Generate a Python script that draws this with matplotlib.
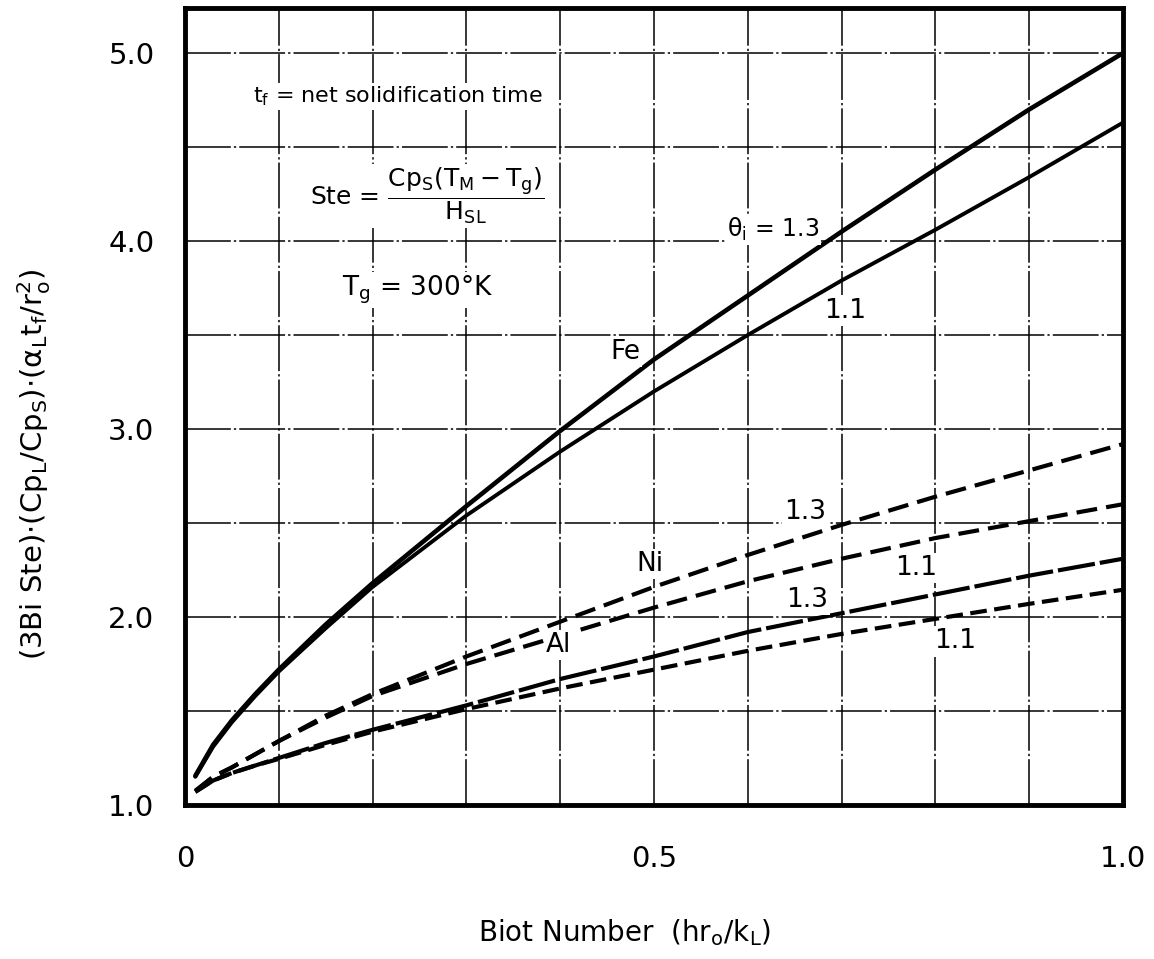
import numpy as np
import matplotlib
matplotlib.use("Agg")
import matplotlib.pyplot as plt
from matplotlib.ticker import MultipleLocator, FuncFormatter

# values: Biot number vs. dimensionless time
biot = [0.011, 0.03, 0.05, 0.075, 0.1, 0.15, 0.2, 0.3, 0.4, 0.5, 0.6, 0.7, 0.8, 0.9, 1.0]
fe_13 = [1.155, 1.32, 1.45, 1.59, 1.72, 1.96, 2.18, 2.59, 2.99, 3.37, 3.71, 4.05, 4.38, 4.70, 5.00]
fe_11 = [1.150, 1.31, 1.44, 1.58, 1.71, 1.94, 2.16, 2.54, 2.88, 3.20, 3.50, 3.79, 4.06, 4.34, 4.63]
ni_13 = [1.075, 1.15, 1.20, 1.27, 1.34, 1.475, 1.59, 1.79, 1.975, 2.16, 2.33, 2.49, 2.64, 2.78, 2.92]
ni_11 = [1.075, 1.15, 1.20, 1.27, 1.34, 1.465, 1.58, 1.75, 1.90, 2.05, 2.19, 2.31, 2.42, 2.51, 2.60]
al_13 = [1.070, 1.13, 1.17, 1.21, 1.25, 1.33, 1.40, 1.53, 1.67, 1.79, 1.92, 2.02, 2.12, 2.22, 2.31]
al_11 = [1.070, 1.13, 1.17, 1.21, 1.245, 1.32, 1.39, 1.51, 1.62, 1.72, 1.82, 1.91, 1.99, 2.07, 2.145]

plt.rcParams['font.family'] = ['DejaVu Sans']
plt.rcParams['mathtext.fontset'] = 'dejavusans'
plt.rcParams['mathtext.default'] = 'regular'

fig = plt.figure(figsize=(11.54, 9.59), dpi=100)
ax = fig.add_axes([0.1603, 0.1606, 0.8128, 0.8311])

ax.plot(biot, fe_13, color='black', lw=3.3, solid_capstyle='round')
ax.plot(biot, fe_11, color='black', lw=2.8, solid_capstyle='round')
ax.plot(biot, ni_13, color='black', lw=3.0, linestyle=(0, (5, 2.2)))
ax.plot(biot, ni_11, color='black', lw=3.0, linestyle=(0, (5, 2.2)))
ax.plot(biot, al_13, color='black', lw=3.0, linestyle=(0, (9, 1.2)))
ax.plot(biot, al_11, color='black', lw=3.0, linestyle=(0, (4, 1.8)))

ax.set_xlim(0, 1.0)
ax.set_ylim(1.0, 5.24)
ax.xaxis.set_major_locator(MultipleLocator(0.1))
ax.yaxis.set_major_locator(MultipleLocator(0.5))

def xfmt(v, pos):
    if abs(v) < 1e-9:
        return "0"
    if abs(v - 0.5) < 1e-9 or abs(v - 1.0) < 1e-9:
        return "%.1f" % v
    return ""

def yfmt(v, pos):
    if abs(v - round(v)) < 1e-9:
        return "%.1f" % v
    return ""

ax.xaxis.set_major_formatter(FuncFormatter(xfmt))
ax.yaxis.set_major_formatter(FuncFormatter(yfmt))
ax.tick_params(length=0, labelsize=21)
ax.tick_params(axis='x', pad=29)
ax.tick_params(axis='y', pad=22)

ax.grid(True, color='black', lw=1.1, linestyle=(0, (30, 2, 1.5, 2)))
for s in ax.spines.values():
    s.set_linewidth(3.5)

box = dict(facecolor='white', edgecolor='none', pad=1.5)
ax.text(0.072, 4.77, r"t$_f$ = net solidification time", fontsize=16, va='center', ha='left', bbox=box)
ax.text(0.133, 4.24, r"Ste = $\dfrac{Cp_S(T_M - T_g)}{H_{SL}}$", fontsize=18,
        va='center', ha='left', bbox=box)
ax.text(0.248, 3.74, r"T$_g$ = 300°K", fontsize=19, va='center', ha='center', bbox=box)

ax.text(0.469, 3.41, "Fe", fontsize=19, va='center', ha='center', bbox=box)
ax.text(0.627, 4.06, r"$\theta_i$ = 1.3", fontsize=17, va='center', ha='center', bbox=box)
ax.text(0.704, 3.63, "1.1", fontsize=19, va='center', ha='center', bbox=box)
ax.text(0.496, 2.28, "Ni", fontsize=19, va='center', ha='center', bbox=box)
ax.text(0.661, 2.56, "1.3", fontsize=19, va='center', ha='center', bbox=box)
ax.text(0.398, 1.85, "Al", fontsize=19, va='center', ha='center', bbox=box)
ax.text(0.663, 2.09, "1.3", fontsize=19, va='center', ha='center', bbox=box)
ax.text(0.780, 2.26, "1.1", fontsize=19, va='center', ha='center', bbox=box)
ax.text(0.821, 1.87, "1.1", fontsize=19, va='center', ha='center', bbox=box)

fig.text(625 / 1154, 1 - 933 / 959, r"Biot Number  (hr$_o$/k$_L$)", fontsize=20, ha='center', va='center')
fig.text(34 / 1154, 1 - 465 / 959,
         r"(3Bi Ste)$\cdot$(Cp$_L$/Cp$_S$)$\cdot$($\alpha_L$t$_f$/r$_o^2$)",
         fontsize=21, ha='center', va='center', rotation=90)

fig.savefig("out.png", dpi=100)
